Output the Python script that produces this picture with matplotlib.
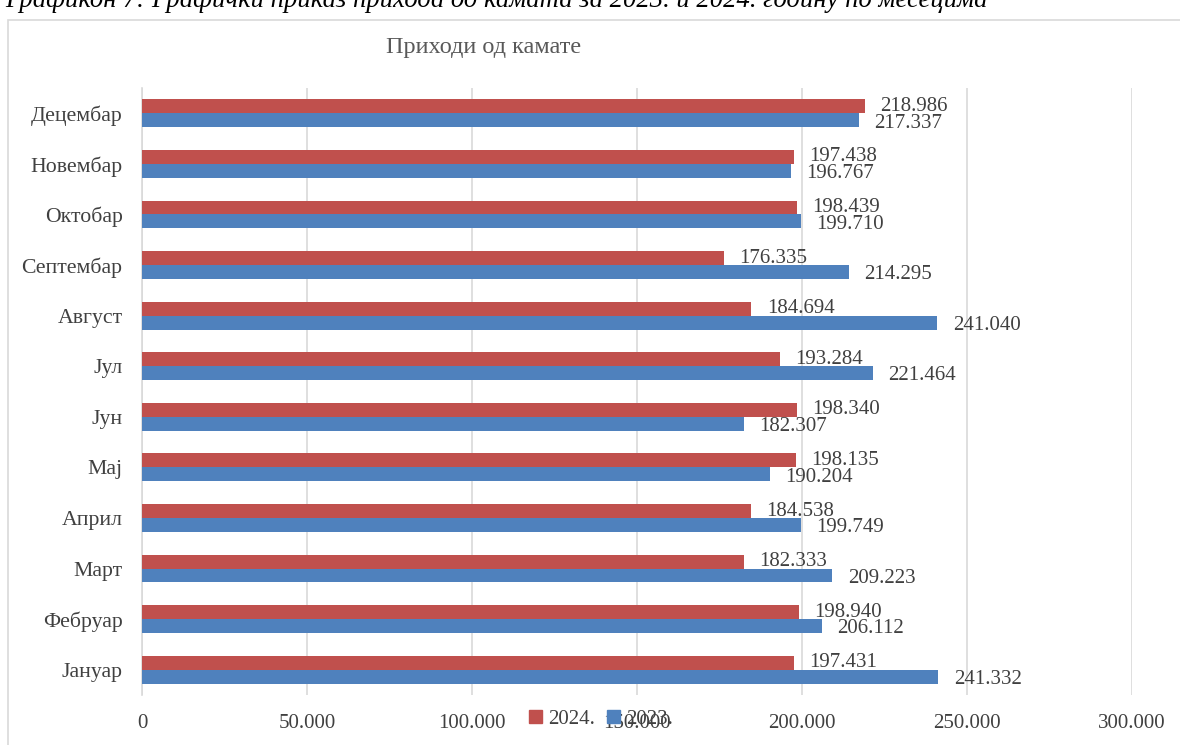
import numpy as np
import matplotlib
matplotlib.use('Agg')
import matplotlib.pyplot as plt
from matplotlib.patches import Rectangle, Patch

months = ['Јануар', 'Фебруар', 'Март', 'Април', 'Мај', 'Јун',
          'Јул', 'Август', 'Септембар', 'Октобар', 'Новембар', 'Децембар']
v2024 = [197431, 198940, 182333, 184538, 198135, 198340,
         193284, 184694, 176335, 198439, 197438, 218986]
v2023 = [241332, 206112, 209223, 199749, 190204, 182307,
         221464, 241040, 214295, 199710, 196767, 217337]
xticks = [0, 50000, 100000, 150000, 200000, 250000, 300000]

RED = '#C0504D'
BLUE = '#4F81BD'
TXT = '#404040'

plt.rcParams['font.family'] = ['Liberation Serif', 'DejaVu Serif']


def fmt(v):
    return '{:,}'.format(v).replace(',', '.')


fig = plt.figure(figsize=(11.8, 7.45), dpi=100)
W, H = 1180, 745

# outer chart frame
fig.patches.append(Rectangle((8 / W, -0.01), 1.1, 1 - 20 / H + 0.01,
                             transform=fig.transFigure, fill=False,
                             edgecolor='#D9D9D9', linewidth=1.2))

# caption cut at top
fig.text(5 / W, 1 - 7 / H, 'Графикон 7: Графички приказ прихода од камата за 2023. и 2024. годину по месецима',
         fontsize=19.2, style='italic', ha='left', va='baseline', color='black')

ax = fig.add_axes([142 / W, 1 - 695 / H, 990 / W, (695 - 88) / H])
y = np.arange(len(months))
h = 0.275
ax.barh(y + h / 2, v2024, height=h, color=RED, label='2024.', zorder=3)
ax.barh(y - h / 2, v2023, height=h, color=BLUE, label='2023.', zorder=3)

for i in range(len(months)):
    ax.annotate(fmt(v2024[i]), (v2024[i], y[i] + h / 2), xytext=(11, 0),
                textcoords='offset points', va='center', ha='left',
                fontsize=15, color=TXT)
    ax.annotate(fmt(v2023[i]), (v2023[i], y[i] - h / 2), xytext=(11, -2),
                textcoords='offset points', va='center', ha='left',
                fontsize=15, color=TXT)

ax.set_xlim(0, 300000)
ax.set_ylim(-0.5, len(months) - 0.5)
ax.set_xticks(xticks)
ax.set_xticklabels([fmt(t) for t in xticks], fontsize=15, color=TXT)
ax.set_yticks(y)
ax.set_yticklabels(months, fontsize=15.7, color=TXT)
ax.tick_params(axis='x', length=0, pad=14)
ax.tick_params(axis='y', length=0, pad=14)
ax.grid(axis='x', color='#D9D9D9', linewidth=1.2, zorder=0)
for s in ['top', 'right', 'bottom']:
    ax.spines[s].set_visible(False)
ax.spines['left'].set_color('#D9D9D9')
ax.spines['left'].set_linewidth(1.2)

fig.text(484 / W, 1 - 47 / H, 'Приходи од камате', fontsize=17.5, color='#595959',
         ha='center', va='center')

handles = [Patch(color=RED, label='2024.'), Patch(color=BLUE, label='2023.')]
fig.legend(handles=handles, loc='center', bbox_to_anchor=(601 / W, 1 - 719 / H),
           ncol=2, frameon=False, fontsize=15, handlelength=0.6, handleheight=0.6,
           handletextpad=0.3, columnspacing=0.6, labelcolor=TXT)

fig.savefig('out.png', dpi=100)
